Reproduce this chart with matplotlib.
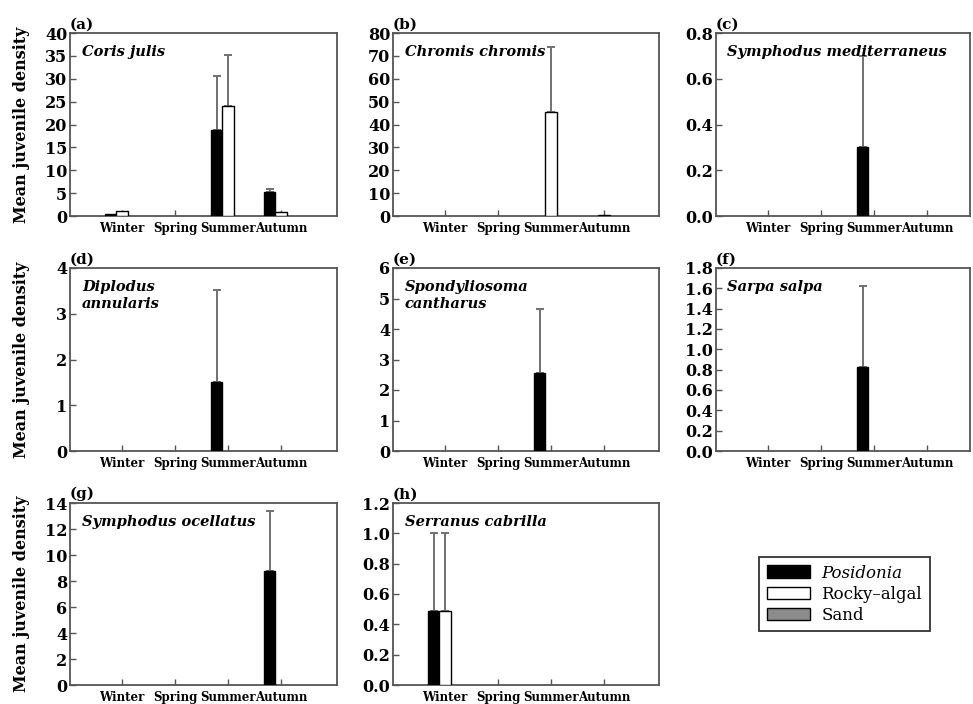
import numpy as np
import matplotlib
matplotlib.use("Agg")
import matplotlib.pyplot as plt

seasons = ["Winter", "Spring", "Summer", "Autumn"]
letters = ["(a)", "(b)", "(c)", "(d)", "(e)", "(f)", "(g)", "(h)"]
species = ["Coris julis", "Chromis chromis", "Symphodus mediterraneus",
           "Diplodus\nannularis", "Spondyliosoma\ncantharus", "Sarpa salpa",
           "Symphodus ocellatus", "Serranus cabrilla"]
habitats = ["Posidonia", "Rocky\u2013algal", "Sand"]

# means per panel, one value per season
posidonia_mean = [[0.4, 0, 18.7, 5.2], [0, 0, 0, 0], [0, 0, 0.3, 0], [0, 0, 1.5, 0],
                  [0, 0, 2.55, 0], [0, 0, 0.83, 0], [0, 0, 0, 8.8], [0.49, 0, 0, 0]]
posidonia_se = [[0, 0, 12.0, 0.6], [0, 0, 0, 0], [0, 0, 0.4, 0], [0, 0, 2.02, 0],
                [0, 0, 2.1, 0], [0, 0, 0.79, 0], [0, 0, 0, 4.6], [0.51, 0, 0, 0]]
rocky_mean = [[1.0, 0, 24.0, 0.8], [0, 0, 45.5, 0.5], [0, 0, 0, 0], [0, 0, 0, 0],
              [0, 0, 0, 0], [0, 0, 0, 0], [0, 0, 0, 0], [0.49, 0, 0, 0]]
rocky_se = [[0, 0, 11.3, 0], [0, 0, 28.5, 0], [0, 0, 0, 0], [0, 0, 0, 0],
            [0, 0, 0, 0], [0, 0, 0, 0], [0, 0, 0, 0], [0.51, 0, 0, 0]]
sand_mean = [[0, 0, 0, 0]] * 8
sand_se = [[0, 0, 0, 0]] * 8

ymax = [40, 80, 0.8, 4, 6, 1.8, 14, 1.2]
ystep = [5, 10, 0.2, 1, 1, 0.2, 2, 0.2]

W, H = 973, 704
col_left = [70, 393, 716]
col_right = [337, 659, 970]
row_top = [33, 268, 503]
row_bot = [216, 451, 685]
SPACING = 53.0

SERIF = "DejaVu Serif"
SPINE = "#555555"

fig = plt.figure(figsize=(W / 100, H / 100), dpi=100)

bw = 0.21
colors = ["black", "white", "#8c8c8c"]
handles = None
for i in range(8):
    r, c = divmod(i, 3)
    l, rt = col_left[c], col_right[c]
    ax = fig.add_axes([l / W, 1 - row_bot[r] / H, (rt - l) / W, (row_bot[r] - row_top[r]) / H])
    x = np.arange(len(seasons))
    hs = []
    for k, (m, e) in enumerate([(posidonia_mean, posidonia_se),
                                (rocky_mean, rocky_se),
                                (sand_mean, sand_se)]):
        xs = x + (k - 1) * bw
        lws = [1.0 if v > 0 else 0 for v in m[i]]
        b = ax.bar(xs, m[i], width=bw, color=colors[k], edgecolor="black",
                   linewidth=lws, zorder=3)
        hs.append(b)
        idx = [j for j in range(4) if e[i][j] > 0]
        if idx:
            ax.errorbar(xs[idx], np.array(m[i])[idx],
                        yerr=[np.zeros(len(idx)), np.array(e[i])[idx]],
                        fmt="none", ecolor="#707070", elinewidth=1.4,
                        capsize=3, capthick=1.4, zorder=2)
    if handles is None:
        handles = hs
    ax.set_xlim(-52 / SPACING, -52 / SPACING + (rt - l) / SPACING)
    ax.set_ylim(0, ymax[i])
    ax.set_yticks(np.arange(0, ymax[i] + ystep[i] / 2, ystep[i]))
    if ystep[i] < 1:
        ax.yaxis.set_major_formatter(matplotlib.ticker.FormatStrFormatter("%.1f"))
    ax.set_xticks(x)
    ax.set_xticklabels(seasons)
    ax.tick_params(axis="y", direction="in", length=4, width=1, color=SPINE,
                   labelsize=11.5, pad=2)
    ax.tick_params(axis="x", direction="in", length=4, width=1, color=SPINE,
                   labelsize=8.5, pad=4)
    for lab in ax.get_xticklabels() + ax.get_yticklabels():
        lab.set_fontfamily(SERIF)
        lab.set_fontweight("bold")
    for s in ax.spines.values():
        s.set_color(SPINE)
        s.set_linewidth(1.3)
    ax.text(0.045, 0.935, species[i], transform=ax.transAxes, ha="left", va="top",
            family=SERIF, style="italic", weight="bold", fontsize=10.5,
            linespacing=1.3)
    ax.text(0.0, 1.01, letters[i], transform=ax.transAxes, ha="left", va="bottom",
            family=SERIF, weight="bold", fontsize=11)
    if c == 0:
        fig.text(22 / W, 1 - (row_top[r] + row_bot[r]) / 2 / H, "Mean juvenile density",
                 rotation=90, ha="center", va="center", family=SERIF,
                 weight="bold", fontsize=11.5)

leg = fig.legend(handles, habitats, loc="upper left",
                 bbox_to_anchor=(759 / W, 1 - 557 / H),
                 prop={"family": SERIF, "size": 12},
                 frameon=True, fancybox=False, edgecolor="black",
                 handlelength=2.6, handleheight=0.8, handletextpad=0.7,
                 labelspacing=0.25, borderpad=0.45, borderaxespad=0)
leg.get_frame().set_linewidth(1.3)
for p in leg.get_patches():
    p.set_linewidth(1.0)
leg.get_texts()[0].set_style("italic")

fig.savefig("out.png", dpi=100, facecolor="white")
